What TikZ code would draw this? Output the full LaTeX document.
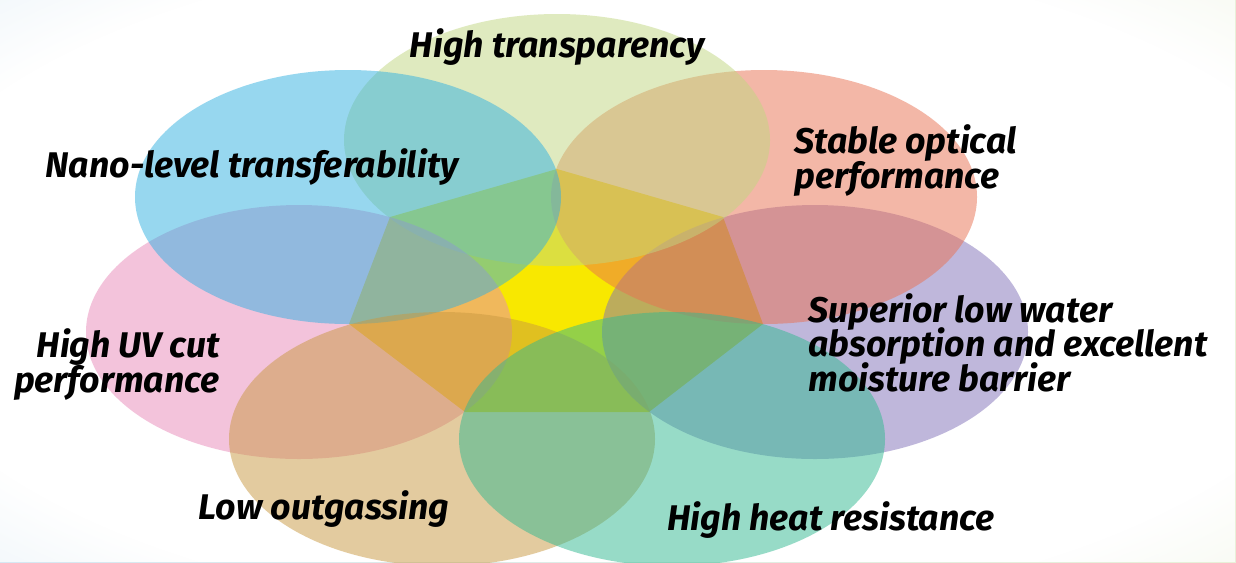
\documentclass[tikz,border=0pt]{standalone}
\usepackage{fontspec}
\setmainfont{Fira Sans}
\usepackage{tikz}
\usetikzlibrary{fadings}

\definecolor{bgblue}{HTML}{D6E8F3}
\definecolor{bggreen}{HTML}{E8F0D8}
\definecolor{hepyellow}{HTML}{F8E800}
\definecolor{transgreen}{HTML}{C1D781}
\definecolor{nanoblue}{HTML}{31B1E1}
\definecolor{opticred}{HTML}{E97151}
\definecolor{uvpink}{HTML}{E989B9}
\definecolor{waterpurple}{HTML}{8171B9}
\definecolor{gastan}{HTML}{C99941}
\definecolor{heatteal}{HTML}{31B991}

\pgfdeclareradialshading{glowshade}{\pgfpointorigin}{color(0bp)=(pgftransparent!0); color(30bp)=(pgftransparent!0); color(50bp)=(pgftransparent!100)}
\pgfdeclarefading{glowfade}{\pgfuseshading{glowshade}}

\newcommand{\lblfont}{\fontsize{20.3}{19.5}\selectfont\setlength{\lineskiplimit}{-20pt}\bfseries\itshape}

\tikzset{
  petal/.style={fill opacity=0.5},
  lbl/.style={inner sep=0pt, text=black, font=\lblfont}
}

\begin{document}
\begin{tikzpicture}[x=0.02cm, y=-0.02cm]

\useasboundingbox (0,0) rectangle (1236,562);

% background
\shade [left color=bgblue, right color=bggreen] (0,0) rectangle (1236,562);
\fill [white, path fading=glowfade] (0,0) rectangle (1236,562);

% heptagon
\coordinate (t) at (557,169);
\coordinate (ur) at (723,217);
\coordinate (r) at (763,324);
\coordinate (br) at (649,412);
\coordinate (bl) at (465,412);
\coordinate (l) at (349,324);
\coordinate (ul) at (390,217);
\fill [hepyellow] (t) -- (ur) -- (r) -- (br) -- (bl) -- (l) -- (ul) -- cycle;

% petals
\fill [petal, waterpurple] (815,332) ellipse (213 and 127);
\fill [petal, opticred] (764,197) ellipse (213 and 127);
\fill [petal, transgreen] (557,140) ellipse (213 and 126);
\fill [petal, uvpink] (299,332) ellipse (213 and 127);
\fill [petal, nanoblue] (348,197) ellipse (213 and 127);
\fill [petal, gastan] (442,439) ellipse (213 and 127);
\fill [petal, heatteal] (672,439) ellipse (213 and 127);

% labels (multi-line ones sit on their last line)
\node [lbl, anchor=base] (transp) at (557,57) {High transparency};
\node [lbl, anchor=base] (nano) at (252,177) {Nano-level transferability};
\node [lbl, anchor=base west, align=left] (optic) at (794,188) {Stable optical\\performance};
\node [lbl, anchor=base east, align=right] (uvcut) at (220,392) {High UV cut\\performance};
\node [lbl, anchor=base west, align=left] (water) at (808,391) {Superior low water\\absorption and excellent\\moisture barrier};
\node [lbl, anchor=base] (outgas) at (324,519) {Low outgassing};
\node [lbl, anchor=base] (heat) at (831,530) {High heat resistance};

\end{tikzpicture}
\end{document}
